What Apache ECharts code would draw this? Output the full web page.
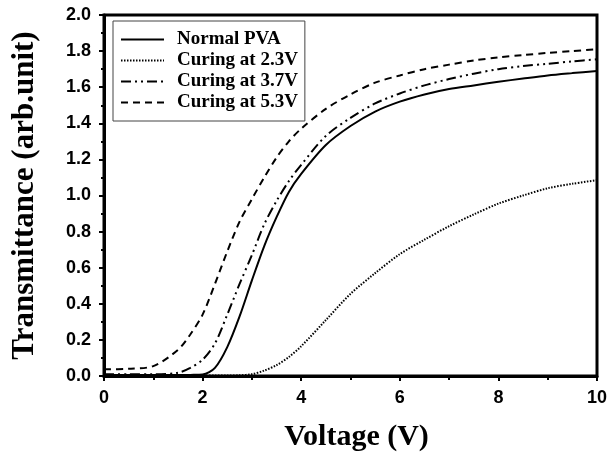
<!DOCTYPE html>
<html>
<head>
    <meta charset="utf-8"/>
    <title>Transmittance vs Voltage</title>
    <style type="text/css">
        html, body { margin: 0; padding: 0; background: #fff; }
        #main { width: 616px; height: 457px; }
    </style>
    <script type="text/javascript" src="https://cdn.jsdelivr.net/npm/echarts@6/dist/echarts.min.js"></script>
</head>
<body>
<div id="main"></div>
<script type="text/javascript">

    // voltage points (V)
    var voltage = [0, 0.5, 1, 1.5, 1.75, 2, 2.25, 2.5, 2.75, 3, 3.25, 3.5, 3.75, 4, 4.5, 5, 5.5, 6, 6.5, 7, 7.5, 8, 8.5, 9, 9.5, 10];

    // transmittance
    var normalPVA = [0.005, 0.005, 0.005, 0.005, 0.006, 0.008, 0.045, 0.16, 0.33, 0.53, 0.72, 0.88, 1.02, 1.12, 1.28, 1.385, 1.465, 1.52, 1.56, 1.59, 1.61, 1.63, 1.648, 1.665, 1.678, 1.69];
    var curing23 = [0.003, 0.003, 0.003, 0.003, 0.003, 0.003, 0.003, 0.003, 0.004, 0.01, 0.03, 0.06, 0.105, 0.165, 0.31, 0.455, 0.57, 0.675, 0.755, 0.83, 0.895, 0.955, 1.0, 1.04, 1.065, 1.085];
    var curing37 = [0.01, 0.01, 0.01, 0.018, 0.045, 0.09, 0.18, 0.34, 0.51, 0.67, 0.84, 0.97, 1.08, 1.17, 1.33, 1.43, 1.51, 1.565, 1.61, 1.645, 1.675, 1.70, 1.717, 1.73, 1.743, 1.755];
    var curing53 = [0.037, 0.04, 0.055, 0.145, 0.23, 0.34, 0.51, 0.69, 0.855, 0.98, 1.10, 1.21, 1.30, 1.37, 1.48, 1.56, 1.625, 1.665, 1.70, 1.725, 1.748, 1.765, 1.778, 1.79, 1.80, 1.81];

    var seriesNames = ['Normal PVA', 'Curing at 2.3V', 'Curing at 3.7V', 'Curing at 5.3V'];

    function pairs(ys) {
        return voltage.map(function (v, i) { return [v, ys[i]]; });
    }

    var myChart = echarts.init(document.getElementById('main'));

    var serif = '"Liberation Serif", "Times New Roman", serif';
    var sans = '"Liberation Sans", Arial, sans-serif';

    function line(name, ys, type) {
        return {
            name: name,
            type: 'line',
            data: pairs(ys),
            smooth: 0.3,
            symbol: 'none',
            lineStyle: { color: '#000', width: 2, type: type },
            itemStyle: { color: '#000' }
        };
    }

    var option = {
        animation: false,
        backgroundColor: '#fff',
        grid: {
            left: 104, right: 19, top: 15, bottom: 81,
            show: true,
            borderColor: '#000',
            borderWidth: 3
        },
        legend: {
            data: seriesNames,
            orient: 'vertical',
            left: 113,
            top: 21,
            padding: [9, 7, 9, 7],
            borderColor: '#444',
            borderWidth: 1,
            itemWidth: 43,
            itemHeight: 14,
            itemGap: 2,
            itemStyle: { color: 'transparent', borderWidth: 0 },
            textStyle: {
                fontFamily: serif,
                fontWeight: 'bold',
                fontSize: 19,
                color: '#000',
                padding: [0, 0, 0, 8]
            }
        },
        xAxis: {
            type: 'value',
            min: 0,
            max: 10,
            interval: 2,
            name: 'Voltage (V)',
            nameLocation: 'middle',
            nameGap: 46,
            nameTextStyle: { fontFamily: serif, fontWeight: 'bold', fontSize: 30, color: '#000', padding: [0, 0, 0, 12] },
            axisLine: { lineStyle: { color: '#000', width: 3 } },
            axisTick: { inside: false, length: 5, lineStyle: { color: '#000', width: 2 } },
            minorTick: { show: true, splitNumber: 2, length: 4, lineStyle: { color: '#000', width: 2 } },
            splitLine: { show: false },
            axisLabel: { margin: 13, fontFamily: sans, fontWeight: 'bold', fontSize: 18, color: '#000' }
        },
        yAxis: {
            type: 'value',
            min: 0,
            max: 2,
            interval: 0.2,
            name: 'Transmittance (arb.unit)',
            nameLocation: 'middle',
            nameGap: 64,
            nameTextStyle: { fontFamily: serif, fontWeight: 'bold', fontSize: 31, color: '#000' },
            axisLine: { lineStyle: { color: '#000', width: 3 } },
            axisTick: { inside: false, length: 5, lineStyle: { color: '#000', width: 2 } },
            minorTick: { show: true, splitNumber: 2, length: 3, lineStyle: { color: '#000', width: 2 } },
            splitLine: { show: false },
            axisLabel: {
                margin: 13,
                fontFamily: sans, fontWeight: 'bold', fontSize: 18, color: '#000',
                formatter: function (v) { return v.toFixed(1); }
            }
        },
        series: [
            line(seriesNames[0], normalPVA, 'solid'),
            line(seriesNames[1], curing23, [1.5, 1.5]),
            line(seriesNames[2], curing37, [10, 4, 2, 4, 2, 4]),
            line(seriesNames[3], curing53, [7, 5])
        ]
    };

    myChart.setOption(option);

</script>
</body>
</html>
